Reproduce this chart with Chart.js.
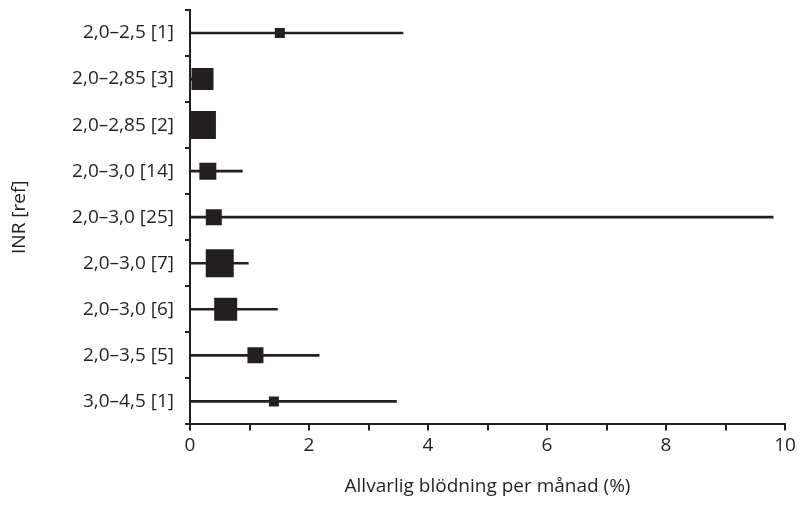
<!DOCTYPE html>
<html>
<head>
<meta charset="utf-8">
<script src="https://cdn.jsdelivr.net/npm/chart.js@4/dist/chart.umd.min.js"></script>
<style>
  html, body { margin: 0; padding: 0; background: #fff; }
</style>
</head>
<body>
<canvas id="forest" width="803" height="513"></canvas>
<script>
// INR target range [reference], one row per study
const categories = ['2,0–2,5 [1]', '2,0–2,85 [3]', '2,0–2,85 [2]', '2,0–3,0 [14]', '2,0–3,0 [25]',
                    '2,0–3,0 [7]', '2,0–3,0 [6]', '2,0–3,5 [5]', '3,0–4,5 [1]'];
// point estimate and interval (% severe bleeding per month)
const estimate = [1.51, 0.21, 0.20, 0.30, 0.40, 0.50, 0.60, 1.10, 1.41];
const lower    = [0, 0, 0, 0, 0, 0, 0, 0, 0];
const upper    = [3.58, 0.35, 0.35, 0.88, 9.80, 0.98, 1.47, 2.17, 3.47];
const xTicks   = [0, 2, 4, 6, 8, 10];

// square side in px (study weight)
const markerSide = [10, 22, 28, 17, 16, 28, 23, 16, 10];
const ink = '#231f20';

Chart.defaults.font.family = '"Open Sans", Lato, sans-serif';
Chart.defaults.font.size = 19;
Chart.defaults.color = ink;

const ctx = document.getElementById('forest').getContext('2d');
const chart = new Chart(ctx, {
    type: 'bar',
    data: {
        labels: categories,
        datasets: [
            {
                // squares
                type: 'scatter',
                data: categories.map((c, i) => ({ x: estimate[i], y: c })),
                pointStyle: 'rect',
                pointRadius: markerSide.map(s => s / Math.SQRT2),
                pointHoverRadius: markerSide.map(s => s / Math.SQRT2),
                backgroundColor: ink,
                borderWidth: 0,
                order: 0,
            },
            {
                // confidence intervals
                data: categories.map((c, i) => [lower[i], upper[i]]),
                backgroundColor: ink,
                barThickness: 2,
                order: 1,
            },
        ],
    },
    options: {
        indexAxis: 'y',
        responsive: false,
        animation: false,
        layout: { padding: { top: 10, right: 18, left: 4, bottom: 11 } },
        plugins: { legend: { display: false }, tooltip: { enabled: false } },
        scales: {
            x: {
                type: 'linear',
                min: 0,
                max: 10,
                border: { color: ink, width: 2 },
                grid: { drawOnChartArea: false, color: ink, lineWidth: 2, tickLength: 6 },
                ticks: {
                    stepSize: 1,
                    padding: 4,
                    autoSkip: false,
                    maxRotation: 0,
                    callback: v => (xTicks.includes(v) ? String(v) : ''),
                },
                title: { display: true, text: 'Allvarlig blödning per månad (%)', padding: { top: 14 } },
            },
            y: {
                type: 'category',
                offset: true,
                border: { color: ink, width: 2 },
                grid: { drawOnChartArea: false, offset: true, color: ink, lineWidth: 2, tickLength: 5 },
                ticks: { padding: 11, autoSkip: false },
                title: { display: true, text: 'INR [ref]', padding: { bottom: 6 } },
                afterFit: s => { s.width = 186; s.paddingTop = 0; s.paddingBottom = 0; },
            },
        },
    },
});

// big squares would otherwise pad the plot area on every side
chart.getDatasetMeta(0).controller.getMaxOverflow = () => 0;
chart.update();
</script>
</body>
</html>
